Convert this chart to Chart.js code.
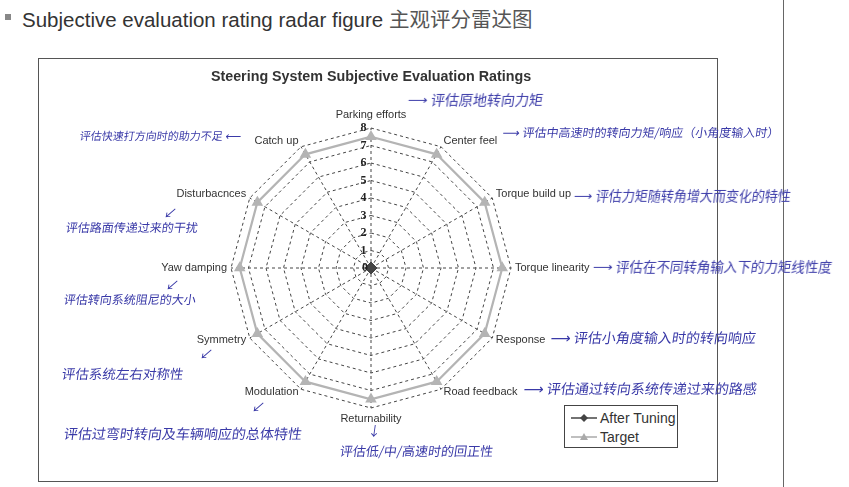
<!DOCTYPE html>
<html>
<head>
<meta charset="utf-8">
<script src="https://cdn.jsdelivr.net/npm/chart.js@4"></script>
<style>
  body { margin: 0; background: #fff; width: 849px; height: 487px; position: relative; overflow: hidden; font-family: "Liberation Sans", Arial, sans-serif; }
  .slideTitle { position: absolute; left: 22px; top: 3px; font-size: 20.5px; color: #333; white-space: nowrap; }
  .slideTitle .cjk { font-family: "Noto Sans CJK SC", sans-serif; color: #555; }
  .bullet { position: absolute; left: 5px; top: 14px; width: 6px; height: 6px; background: #888; }
  .frame { position: absolute; left: 38px; top: 58px; width: 680px; height: 424px; border: 1px solid #555; box-sizing: border-box; }
  .vline { position: absolute; left: 783px; top: 0; width: 1px; height: 487px; background: #666; }
  .note { position: absolute; font-family: "Noto Sans CJK SC", sans-serif; color: #3a3aa8; white-space: nowrap; transform: skewX(-8deg); line-height: 1; }
  .legend { position: absolute; left: 564px; top: 405px; width: 114px; height: 43px; border: 1px solid #444; box-sizing: border-box; background: #fff; font-size: 14px; color: #333; }
  .legend div { position: absolute; left: 6px; height: 18px; display: flex; align-items: center; }
  .legend svg { margin-right: 3px; }
</style>
</head>
<body>
<div class="bullet"></div>
<div class="slideTitle">Subjective evaluation rating radar figure <span class="cjk">主观评分雷达图</span></div>
<div class="vline"></div>
<div class="frame"><canvas id="radarChart"></canvas></div>

<div class="legend">
  <div style="top:3px"><svg width="26" height="10"><line x1="0" y1="5" x2="26" y2="5" stroke="#444" stroke-width="1.5"/><path d="M13 1 L17 5 L13 9 L9 5 Z" fill="#444"/></svg>After Tuning</div>
  <div style="top:22px"><svg width="26" height="10"><line x1="0" y1="5" x2="26" y2="5" stroke="#aaa" stroke-width="1.5"/><path d="M13 1 L17 8 L9 8 Z" fill="#aaa"/></svg>Target</div>
</div>

<!-- handwritten notes -->
<div class="note" style="left:408px;top:92px;font-size:14px">⟶ 评估原地转向力矩</div>
<div class="note" style="left:503px;top:126px;font-size:12px">⟶ 评估中高速时的转向力矩/响应（小角度输入时）</div>
<div class="note" style="left:574px;top:189px;font-size:13px">⟶ 评估力矩随转角增大而变化的特性</div>
<div class="note" style="left:593px;top:260px;font-size:13.5px">⟶ 评估在不同转角输入下的力矩线性度</div>
<div class="note" style="left:551px;top:330px;font-size:14px">⟶ 评估小角度输入时的转向响应</div>
<div class="note" style="left:524px;top:381px;font-size:14px">⟶ 评估通过转向系统传递过来的路感</div>
<div class="note" style="left:368px;top:424px;font-size:13px">↓</div>
<div class="note" style="left:340px;top:444px;font-size:13px">评估低/中/高速时的回正性</div>
<div class="note" style="left:252px;top:400px;font-size:13px">↙</div>
<div class="note" style="left:64px;top:426px;font-size:14px">评估过弯时转向及车辆响应的总体特性</div>
<div class="note" style="left:200px;top:347px;font-size:13px">↙</div>
<div class="note" style="left:62px;top:367px;font-size:13.5px">评估系统左右对称性</div>
<div class="note" style="left:166px;top:278px;font-size:13px">↙</div>
<div class="note" style="left:64px;top:293px;font-size:12px">评估转向系统阻尼的大小</div>
<div class="note" style="left:164px;top:206px;font-size:13px">↙</div>
<div class="note" style="left:66px;top:221px;font-size:12px">评估路面传递过来的干扰</div>
<div class="note" style="left:80px;top:130px;font-size:11px">评估快速打方向时的助力不足 ⟵</div>

<script>
// Chart data
const categories = ['Parking efforts', 'Center feel', 'Torque build up', 'Torque linearity', 'Response', 'Road feedback',
    'Returnability', 'Modulation', 'Symmetry', 'Yaw damping', 'Disturbacnces', 'Catch up'];
const afterTuning = [0, 0, 0, 0, 0, 0, 0, 0, 0, 0, 0, 0];
const target = [7.5, 7.5, 7.5, 7.5, 7.5, 7.5, 7.5, 7.5, 7.5, 7.5, 7.5, 7.5];
const tickMin = 0;
const tickMax = 8;
const tickStep = 1;

const tickFont = { family: '"Liberation Serif", serif', size: 12, weight: 'bold' };

// Draw the "0" tick and Excel-style category labels (centred on each spoke end)
const extraLabels = {
    id: 'extraLabels',
    afterDraw(chart) {
        const scale = chart.scales.r;
        const ctx = chart.ctx;
        const c = scale.getPointPositionForValue(0, tickMin);
        ctx.save();
        ctx.font = 'bold 12px "Liberation Serif", serif';
        ctx.fillStyle = '#222';
        ctx.textAlign = 'right';
        ctx.textBaseline = 'middle';
        ctx.fillText(String(tickMin), c.x - 3, c.y);

        ctx.font = '11px "Liberation Sans", Arial, sans-serif';
        ctx.fillStyle = '#333';
        chart.data.labels.forEach((label, i) => {
            const p = scale.getPointPosition(i, scale.drawingArea + 3);
            const dx = p.x - c.x;
            const dy = p.y - c.y;
            if (Math.abs(dx) < 1) {
                const q = scale.getPointPosition(i, scale.drawingArea + (dy < 0 ? 8 : 5));
                ctx.textAlign = 'center';
                ctx.textBaseline = dy < 0 ? 'bottom' : 'top';
                ctx.fillText(label, q.x, q.y);
            } else {
                ctx.textAlign = dx > 0 ? 'left' : 'right';
                ctx.textBaseline = 'middle';
                ctx.fillText(label, p.x + (dx > 0 ? 1 : -1), p.y + (dy < -10 ? -3 : 0));
            }
        });
        ctx.restore();
    }
};

new Chart(document.getElementById('radarChart'), {
    type: 'radar',
    data: {
        labels: categories,
        datasets: [{
            label: 'After Tuning',
            data: afterTuning,
            borderColor: '#444',
            backgroundColor: '#444',
            borderWidth: 1.5,
            pointStyle: 'rectRot',
            pointRadius: 5,
            pointBackgroundColor: '#444',
            pointBorderColor: '#444',
            fill: false
        }, {
            label: 'Target',
            data: target,
            borderColor: '#b4b4b4',
            backgroundColor: '#b4b4b4',
            borderWidth: 2.2,
            pointStyle: 'triangle',
            pointRadius: 4.5,
            pointBackgroundColor: '#b4b4b4',
            pointBorderColor: '#b4b4b4',
            fill: false
        }]
    },
    options: {
        responsive: true,
        maintainAspectRatio: false,
        animation: false,
        layout: {
            padding: { top: 0, bottom: 64, left: 20, right: 34 }
        },
        plugins: {
            legend: { display: false },
            tooltip: { enabled: false },
            title: {
                display: true,
                text: 'Steering System Subjective Evaluation Ratings',
                color: '#333',
                font: { family: '"Liberation Sans", Arial, sans-serif', size: 14.3, weight: 'bold' },
                padding: { top: 9, bottom: 34 }
            }
        },
        scales: {
            r: {
                min: tickMin,
                max: tickMax,
                ticks: {
                    stepSize: tickStep,
                    color: '#222',
                    font: tickFont,
                    showLabelBackdrop: false,
                    callback: v => v + '     '
                },
                grid: { color: '#444', lineWidth: 1 },
                border: { dash: [3, 3] },
                angleLines: { color: '#444', lineWidth: 1, borderDash: [3, 3] },
                pointLabels: { display: false }
            }
        }
    },
    plugins: [extraLabels]
});
</script>
</body>
</html>
